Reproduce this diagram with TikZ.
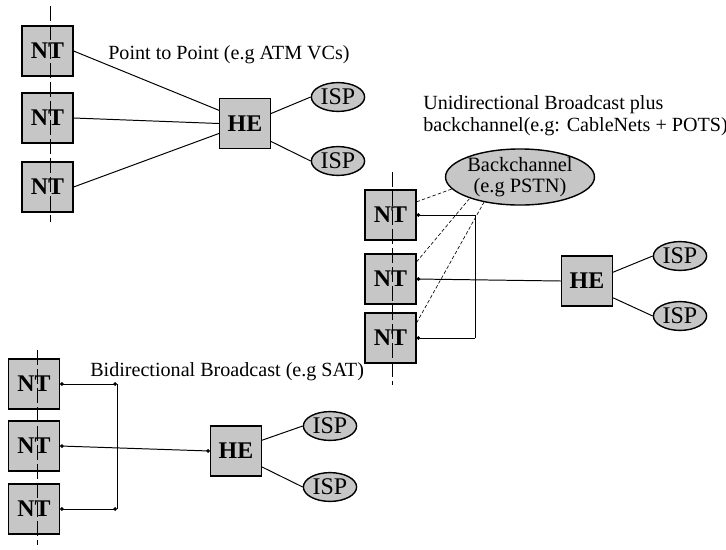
\documentclass[tikz,border=0pt]{standalone}
\usepackage{fontspec}
\setmainfont{Liberation Serif}
\usetikzlibrary{shapes.geometric, arrows.meta}

\begin{document}
\begin{tikzpicture}[
    x=0.025cm, y=-0.025cm,
    font=\fontsize{14.3}{15.6}\selectfont,
    nt/.style    = {draw, line width=1pt, fill=gray!45, minimum width=1.27cm,
                    minimum height=1.25cm, inner sep=0pt,
                    font=\fontsize{17}{17}\selectfont\bfseries},
    isp/.style   = {draw, ellipse, line width=1pt, fill=gray!45,
                    minimum width=1.33cm, minimum height=0.72cm, inner sep=0pt,
                    font=\fontsize{17}{17}\selectfont},
    cloud/.style = {isp, minimum width=3.25cm, minimum height=1.3cm,
                    align=center, font=\fontsize{14.5}{15}\selectfont},
    link/.style  = {line width=0.7pt},
    dot/.style   = {link, -{Circle[length=2.6pt]}},
    dots/.style  = {link, {Circle[length=2.6pt]}-{Circle[length=2.6pt]}},
    back/.style  = {line width=0.45pt, dash pattern=on 2.5pt off 1.5pt},
    wire/.style  = {line width=0.6pt, dash pattern=on 11pt off 2.5pt},
    lab/.style   = {anchor=west, inner sep=0pt, align=left}
]
\useasboundingbox (0,0) rectangle (726,549);

% ---------------- point to point (top left) ----------------
\node[nt]  (nta1) at (47.5, 51)  {NT};
\node[nt]  (nta2) at (47.5,118)  {NT};
\node[nt]  (nta3) at (47.5,187)  {NT};
\node[nt]  (hea)  at (245,123.5) {HE};
\node[isp] (ispa1) at (338, 97)  {ISP};
\node[isp] (ispa2) at (338,161)  {ISP};
\node[lab] (laba) at (108, 55) {Point to Point (e.g ATM VCs)};

\coordinate (wirea_t) at (50,  6);
\coordinate (wirea_b) at (50,222);
\draw[wire] (wirea_t) -- (wirea_b);

\draw[link] (nta1.east) -- ([yshift=0.33cm]hea.west);
\draw[link] (nta2.east) -- (hea.west);
\draw[link] (nta3.east) -- ([yshift=-0.25cm]hea.west);
\draw[link] ([yshift=0.25cm]hea.east) -- (ispa1.west);
\draw[link] ([yshift=-0.45cm]hea.east) -- (ispa2.west);

% ---------------- broadcast + backchannel (right) ----------------
\node[nt]  (ntb1) at (390.5,215) {NT};
\node[nt]  (ntb2) at (390.5,279) {NT};
\node[nt]  (ntb3) at (390.5,338) {NT};
\node[nt]  (heb)  at (587,281)   {HE};
\node[isp] (ispb1) at (680,256)  {ISP};
\node[isp] (ispb2) at (680,316)  {ISP};
\node[cloud] (bch) at (520,177)  {Backchannel\\(e.g PSTN)};
\node[lab] (labb) at (423,116) {Unidirectional Broadcast plus\\backchannel(e.g: CableNets + POTS)};

\coordinate (wireb_t) at (392,172);
\coordinate (wireb_b) at (392,385);
\draw[wire] (wireb_t) -- (wireb_b);

% downstream bus
\coordinate (busb_t) at (475,215);
\coordinate (busb_b) at (475,338);
\draw[dot]  (heb.west) -- (ntb2.east);
\draw[link] (busb_t) -- (busb_b);
\draw[dot]  (busb_t) -- (ntb1.east);
\draw[dot]  (busb_b) -- (ntb3.east);

% return path
\draw[back] ([yshift=0.33cm]ntb1.east) -- (bch.190);
\draw[back] ([yshift=0.43cm]ntb2.east) -- (bch.203);
\draw[back] ([yshift=0.38cm]ntb3.east) -- (bch.215);

\draw[link] ([yshift=0.22cm]heb.east) -- (ispb1.west);
\draw[link] ([yshift=-0.42cm]heb.east) -- (ispb2.west);

% ---------------- bidirectional broadcast (bottom left) ----------------
\node[nt]  (ntc1) at (34,384)  {NT};
\node[nt]  (ntc2) at (34,446)  {NT};
\node[nt]  (ntc3) at (34,509)  {NT};
\node[nt]  (hec)  at (236,451) {HE};
\node[isp] (ispc1) at (330,426) {ISP};
\node[isp] (ispc2) at (330,487) {ISP};
\node[lab] (labc) at (90,372) {Bidirectional Broadcast (e.g SAT)};

\coordinate (wirec_t) at (37,350);
\coordinate (wirec_b) at (37,545);
\draw[wire] (wirec_t) -- (wirec_b);

\coordinate (busc_t) at (117,384);
\coordinate (busc_b) at (117,509);
\draw[link] (busc_t) -- (busc_b);
\draw[dots] (ntc1.east) -- (busc_t);
\draw[dots] (ntc3.east) -- (busc_b);
\draw[dots] (ntc2.east) -- (hec.west);

\draw[link] ([yshift=0.27cm]hec.east) -- (ispc1.west);
\draw[link] ([yshift=-0.4cm]hec.east) -- (ispc2.west);

\end{tikzpicture}
\end{document}
